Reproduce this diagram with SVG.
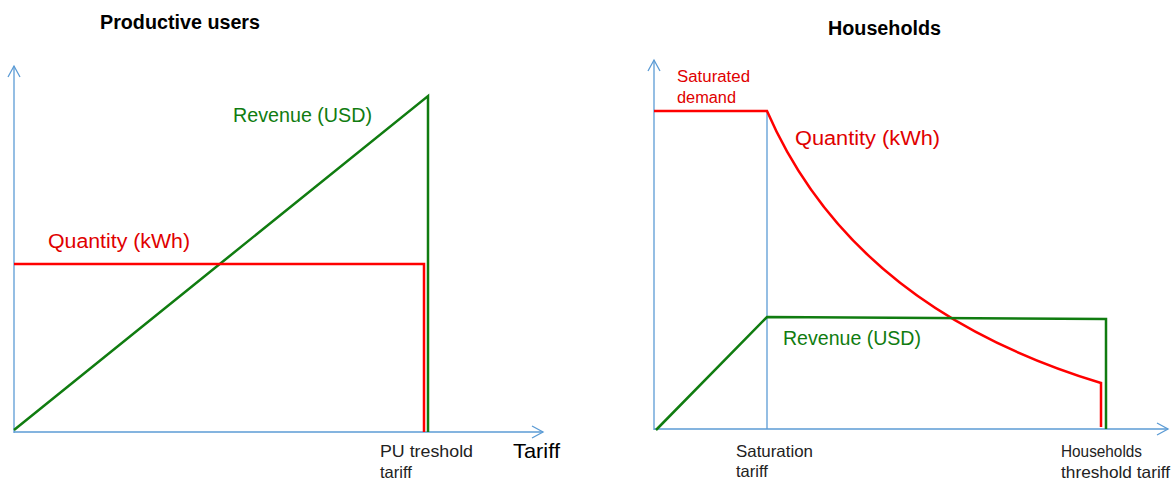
<svg xmlns="http://www.w3.org/2000/svg" width="1176" height="481" viewBox="0 0 1176 481">
<style>
.ax{stroke:#5b9bd5;stroke-width:1.3;fill:none}
.ah{stroke:#5b9bd5;stroke-width:1.3;fill:none}
.red{stroke:#ff0000;stroke-width:2.5;fill:none}
.grn{stroke:#107c10;stroke-width:2.5;fill:none}
.t{font-family:"Liberation Sans",Arial,sans-serif}
.title{font-size:19.5px;font-weight:bold;fill:#000}
.big{font-size:19.5px}
.sm{font-size:16.5px;fill:#222}
</style>
<rect width="1176" height="481" fill="#fff"/>
<g id="left-chart">
<g id="connectors-left">
<line class="ax" x1="14" y1="433" x2="14" y2="66"/>
<polyline class="ah" points="8,77 14,66 20,77"/>
<line class="ax" x1="14" y1="432" x2="543" y2="432"/>
<polyline class="ah" points="532,426 543,432 532,438"/>
<polyline class="grn" points="14,430 428,96 428,432"/>
<polyline class="red" points="14,264 424,264 424,432"/>
</g>
<text class="t title" x="100" y="29" textLength="160" lengthAdjust="spacingAndGlyphs">Productive users</text>
<text id="pu-revenue" class="t big" x="233" y="122" fill="#107c10" textLength="139" lengthAdjust="spacingAndGlyphs">Revenue (USD)</text>
<text id="pu-quantity" class="t big" x="48" y="248" fill="#e00000" textLength="142" lengthAdjust="spacingAndGlyphs">Quantity (kWh)</text>
<text class="t sm" x="380" y="457" textLength="93" lengthAdjust="spacingAndGlyphs">PU treshold</text>
<text class="t sm" x="380" y="478">tariff</text>
<text class="t" x="513" y="458" font-size="21" fill="#000" textLength="47" lengthAdjust="spacingAndGlyphs">Tariff</text>
</g>
<g id="right-chart">
<g id="connectors-right">
<line class="ax" x1="654" y1="430" x2="654" y2="60"/>
<polyline class="ah" points="648,71 654,60 660,71"/>
<line class="ax" x1="654" y1="429" x2="1168" y2="429"/>
<polyline class="ah" points="1157,423 1168,429 1157,435"/>
<line class="ax" x1="767" y1="111" x2="767" y2="429" stroke-width="1"/>
<path class="red" d="M654,111 H767 C810,210 900,322 1101,383 V427"/>
<polyline class="grn" points="656,430 767,317 1106,319 1106,429"/>
</g>
<text class="t title" x="828" y="35" textLength="113" lengthAdjust="spacingAndGlyphs">Households</text>
<text class="t" x="677" y="82" font-size="16" fill="#e00000" textLength="73" lengthAdjust="spacingAndGlyphs">Saturated</text>
<text class="t" x="677" y="103" font-size="16" fill="#e00000" textLength="59" lengthAdjust="spacingAndGlyphs">demand</text>
<text id="hh-quantity" class="t big" x="795" y="145" fill="#e00000" textLength="145" lengthAdjust="spacingAndGlyphs">Quantity (kWh)</text>
<text id="hh-revenue" class="t big" x="783" y="345" fill="#107c10" textLength="138" lengthAdjust="spacingAndGlyphs">Revenue (USD)</text>
<text class="t sm" x="736" y="457" textLength="77" lengthAdjust="spacingAndGlyphs">Saturation</text>
<text class="t sm" x="736" y="477">tariff</text>
<text class="t sm" x="1061" y="457" textLength="81" lengthAdjust="spacingAndGlyphs">Households</text>
<text class="t sm" x="1061" y="478" textLength="109" lengthAdjust="spacingAndGlyphs">threshold tariff</text>
</g>
</svg>
